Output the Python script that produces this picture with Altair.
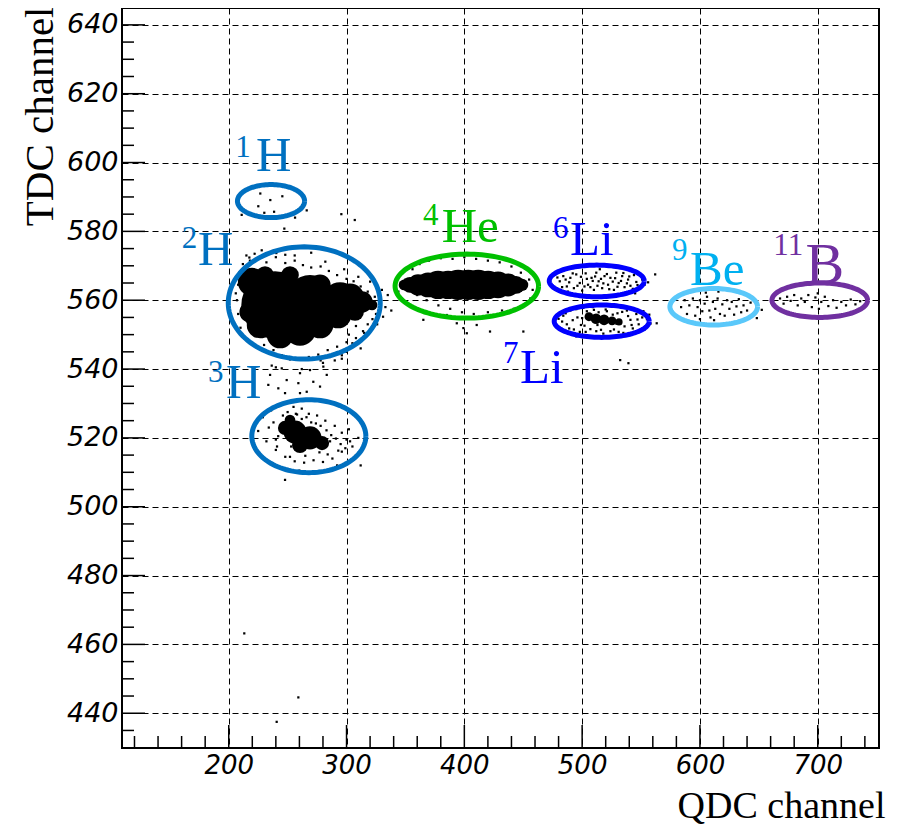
import altair as alt
import pandas as pd
import numpy as np

# ---------------- axis ranges / ticks ----------------
X_DOMAIN = [109.4, 752.0]
Y_DOMAIN = [429.9, 644.9]
W, H = 757, 740

x_major = [200, 300, 400, 500, 600, 700]
x_minor = [v for v in range(120, 760, 20) if v % 100 != 0]
y_major = list(range(440, 641, 20))
y_minor = [v for v in range(435, 645, 5) if v % 20 != 0]

# ---------------- scattered events (QDC, TDC) ----------------
h1_x = [226.8, 235.3, 245.5, 225.1, 238.5, 230.2, 266.2, 256.3, 247.2, 295.6, 307.0, 217.5, 240.4, 211.0]
h1_y = [591.0, 589.1, 590.2, 587.3, 585.7, 585.4, 586.1, 584.0, 580.8, 585.0, 583.3, 572.4, 573.7, 584.8]

h2_x = [212, 218, 225, 232, 240, 248, 256, 263, 270, 278, 285, 292, 300, 306, 312, 318, 324, 329, 333,
        328, 331, 326, 322,
        315, 308, 300, 292, 284, 276, 268, 260, 252, 245, 238, 230, 223, 217,
        208, 207, 208, 209, 206,
        240, 262, 280, 296, 335, 338, 228, 270,
        300, 305, 310, 314, 318, 322, 296, 302, 290, 312, 325, 286, 278, 308,
        215, 222, 248, 256, 282, 298, 310, 320, 330, 210, 213]
h2_y = [570.5, 571.5, 572, 571, 572.5, 570.8, 571.5, 570.2, 569.5, 569.8, 568.5, 567.3, 566.2, 565.5, 564.0, 562.5, 561.0, 559.5, 558.0,
        556.5, 555.2, 553.0, 551.8,
        550.5, 549.0, 547.8, 546.5, 545.5, 544.2, 543.5, 543.0, 542.8, 544.0, 545.5, 547.0, 549.5, 552.0,
        556, 560, 564.5, 568, 562,
        540.5, 540.0, 541.8, 544.0, 561.5, 557.0, 574.5, 573.8,
        545, 547.5, 548, 551, 553, 554.5, 543, 550, 542.5, 546, 556, 543.5, 542.5, 552.5,
        573, 573.5, 573.2, 573, 571.2, 569, 566.8, 565.4, 563, 552, 549]

bridge_x = [236.5, 245.0, 260.5, 269.0, 280.3, 249.2, 259.1, 271.8, 242.1, 266.2, 235.1, 283.2, 233.6, 247.8, 260.5, 277.5]
bridge_y = [541.0, 540.2, 538.8, 539.7, 540.7, 536.8, 535.9, 536.3, 534.4, 533.4, 538.3, 538.3, 535.4, 533.0, 533.0, 534.9]

h3_x = [225, 229, 232, 236, 240, 244, 250, 255, 262, 268, 275, 282, 290, 296, 300, 305, 310, 296, 288, 280,
        272, 264, 256, 248, 240, 234, 286, 292, 302, 308, 260, 275, 247.8, 312,
        238, 242, 246, 250, 253, 257, 262, 266, 270, 274, 278, 283, 287, 291, 295, 299, 241, 284, 265, 252,
        277, 245, 293, 303, 258]
h3_y = [522, 526, 519, 528, 516.5, 529.5, 527.5, 529, 528.5, 527, 526.5, 525, 523.5, 521.5, 519.5, 517.5, 520, 516, 514, 513,
        513.5, 512.8, 513.2, 514.5, 519.5, 523, 519, 512, 522.5, 515, 510.5, 510, 507.8, 512,
        524.5, 520.5, 526.5, 525.5, 517.5, 527, 525.5, 526, 524.5, 524.2, 523.5, 522.2, 520.8, 519.8, 518.2, 517, 517.5, 515.2, 514.8, 514.5,
        515.8, 522.8, 516.3, 519, 526.8]

low_x = [213.2, 259.1, 240.7]
low_y = [463.2, 444.6, 437.5]

he4_x = [365.2, 385.1, 393.6, 399.2, 410.5, 421.8, 450.1, 402.1,
         350, 356, 362, 370, 380, 390, 400, 410, 420, 430, 440, 448, 455, 458, 456, 450, 442, 432,
         420, 408, 398, 388, 378, 368, 360, 352, 346, 344, 462]
he4_y = [554.3, 555.7, 553.3, 551.9, 552.8, 550.9, 550.9, 550.4,
         566, 569, 570.5, 571.5, 572.2, 572, 572.5, 572, 571.5, 571, 569.8, 568, 566, 563, 560.5, 558.5, 557.5, 557,
         556.5, 556, 556.5, 557.5, 558.5, 560, 561.5, 563, 565, 562.5, 564]

li6_x = [481, 484, 487, 490, 493, 495, 498, 500, 503, 505, 508, 510, 512, 514, 517, 519, 522, 524, 527, 529,
         531, 534, 536, 539, 541, 544, 546, 549, 551, 553, 488, 515, 532, 545, 562,
         483, 486, 489, 492, 496, 499, 502, 504, 507, 509, 511, 513, 516, 518, 521, 523, 526, 528, 530, 533,
         535, 538, 540, 543, 547, 550, 479, 556]
li6_y = [565.5, 567, 564, 566.5, 563.5, 567.5, 565, 562.8, 567.8, 564.5, 566.5, 563, 568, 565.5, 563.5, 567, 564.5, 566.5, 563, 568,
         565, 567, 563.8, 566, 564.2, 567.3, 565.3, 563.5, 566, 564.5, 562.5, 569, 569.5, 562, 567.5,
         563.8, 566, 565.2, 567.8, 564.2, 566.8, 564, 566.2, 563.8, 565.6, 566.9, 564.2, 566.2, 564.9, 567.6, 563.2, 565.4, 566.4, 563.9, 565.6,
         567.9, 564.9, 566.9, 563.3, 564.4, 567.2, 566.6, 565.2]

li7_x = [484, 487, 490, 493, 496, 499, 501, 503, 509, 512, 514, 518, 520, 527, 530, 533, 535, 538, 541, 543,
         546, 548, 551, 553, 555, 481, 495, 525, 540, 505, 558, 532.3, 539.3, 563.3,
         483, 486, 489, 492, 495, 498, 500, 502, 504, 507, 510, 513, 516, 521, 524, 526, 529, 531, 534, 536,
         539, 542, 544, 547, 549, 552, 557, 480]
li7_y = [555.5, 553, 557, 551.5, 555, 552.8, 557.8, 550.8, 558, 551, 556.5, 550.3, 557.3, 551.5, 556.2, 553.5, 550.5, 557, 554.3, 551.8,
         556, 553, 555, 551.5, 554.5, 552, 549.5, 558.3, 549.8, 549.5, 553.2, 542.6, 541.7, 553.3,
         553.8, 556.2, 551.8, 554.2, 557.4, 550.8, 554.8, 552.6, 556.8, 551.6, 557.2, 552.8, 551.4, 556.8, 551.0, 555.8, 553.2, 550.8, 556.6, 552.4,
         555.4, 552.8, 557.6, 554.4, 551.4, 556.8, 555.8, 554.6]

be9_x = [584, 587, 589, 591, 594, 596, 598, 600, 602, 604, 606, 608, 609, 611, 613, 615, 617, 619, 621, 623,
         625, 627, 629, 631, 633, 635, 637, 640, 643, 646, 600, 612, 592, 615.7, 652.5, 648.3, 605]
be9_y = [558, 560, 556, 558.5, 560.5, 555.5, 558, 560, 556.8, 559, 561, 557, 555, 559.5, 557.5, 560.5, 556, 558.8, 555.5, 560,
         557.5, 559.5, 555.8, 558.2, 560.3, 556.5, 558.5, 557, 559.3, 556.3, 554.5, 554.2, 553.8, 562.5, 557.2, 554.8, 562.2]

b11_x = [668, 671, 674, 677, 680, 683, 686, 689, 692, 695, 698, 700, 701, 703, 706, 709, 713, 716, 720, 724, 728, 732, 736]
b11_y = [560.5, 559, 561, 559.8, 561.5, 558.5, 560.5, 559.5, 561.5, 558, 560.8, 562, 557.5, 559.5, 561, 558.3, 560, 557.8, 559.5, 558.5, 560.2, 558.8, 559.7]

# dense cores of the populated regions (QDC, TDC)
core_x = [239.3, 219.8, 269.0, 294.5, 292.8, 313.2, 321.7, 307.2, 260.5, 277.5, 243.6, 226.6, 218.1, 252.0, 230.8, 277.5, 303.0,
          348.8, 353.9, 360.7, 369.2, 377.7, 386.2, 394.7, 403.2, 411.7, 420.2, 428.6, 437.1, 443.9, 449.0,
          505.8, 511.8, 518.6, 525.4, 531.3,
          256.3, 269.0, 247.8, 279.2, 260.5, 252.0]
core_y = [558.6, 565.3, 560.1, 560.1, 555.7, 559.5, 558.6, 556.6, 551.4, 552.8, 549.9, 552.8, 556.6, 567.3, 567.3, 564.4, 560.7,
          564.45, 564.45, 564.45, 564.45, 564.45, 564.45, 564.45, 564.45, 564.45, 564.45, 564.45, 564.45, 564.45, 564.45,
          555.2, 554.6, 554.3, 554.0, 553.7,
          521.7, 520.0, 522.9, 518.5, 517.9, 525.2]
core_radius_px = [38, 16, 28, 20, 15, 12, 6, 10, 18, 15, 15, 15, 12, 10, 10, 12, 16,
                  6, 9, 12, 14, 16, 16, 17, 17, 17, 16, 15, 13, 10, 7,
                  5, 6, 6, 5, 4,
                  13, 13, 8, 8, 9, 6]

# ---------------- particle ellipses ----------------
ell_name = ["1H", "2H", "3H", "4He", "6Li", "7Li", "9Be", "11B"]
ell_cx = [235.9, 264.1, 268.0, 402.1, 512.4, 516.6, 611.7, 701.7]
ell_cy = [588.8, 559.2, 520.5, 564.1, 565.6, 553.9, 558.1, 560.0]
ell_rx = [28.5, 64.5, 48.4, 60.9, 40.3, 40.3, 37.2, 40.6]
ell_ry = [4.8, 16.3, 10.6, 9.3, 4.6, 4.7, 5.3, 5.0]
ell_color = ["#0070C0", "#0070C0", "#0070C0", "#00C000", "#0000FF", "#0000FF", "#5AC8FA", "#7030A0"]

# ---------------- labels ----------------
sup_text = ["1", "2", "3", "4", "6", "7", "9", "11"]
sup_x = [205.5, 160.1, 182.4, 364.9, 475.3, 432.8, 576.3, 662.3]
sup_y = [601.6, 575.2, 536.3, 581.9, 578.1, 541.8, 571.7, 573.2]
main_text = ["H", "H", "H", "He", "Li", "Li", "Be", "B"]
main_x = [223.2, 173.9, 197.7, 380.8, 489.7, 447.3, 591.6, 689.6]
main_y = [597.4, 570.3, 531.6, 577.0, 573.2, 536.0, 564.5, 565.0]
label_color = ["#0070C0", "#0070C0", "#0070C0", "#00C000", "#0000FF", "#0000FF", "#00B0F0", "#7030A0"]
main_fs = [49, 49, 49, 49, 49, 49, 49, 58]

# ---------------- build tables ----------------
dots = pd.DataFrame({
    "qdc": h1_x + h2_x + bridge_x + h3_x + low_x + he4_x + li6_x + li7_x + be9_x + b11_x,
    "tdc": h1_y + h2_y + bridge_y + h3_y + low_y + he4_y + li6_y + li7_y + be9_y + b11_y,
})
cores = pd.DataFrame({"qdc": core_x, "tdc": core_y,
                      "s": [np.pi * r * r for r in core_radius_px]})

t = np.linspace(0, 2 * np.pi, 121)
rows = []
for n, cx, cy, rx, ry in zip(ell_name, ell_cx, ell_cy, ell_rx, ell_ry):
    for k, a in enumerate(t):
        rows.append({"name": n, "k": k, "qdc": cx + rx * np.cos(a), "tdc": cy + ry * np.sin(a)})
ell = pd.DataFrame(rows)

sup = pd.DataFrame({"t": sup_text, "qdc": sup_x, "tdc": sup_y, "c": label_color})
main = pd.DataFrame({"t": main_text, "qdc": main_x, "tdc": main_y, "c": label_color, "fs": main_fs})

xs = alt.Scale(domain=X_DOMAIN, nice=False, zero=False)
ys = alt.Scale(domain=Y_DOMAIN, nice=False, zero=False)

x_axis = alt.Axis(values=x_major, title="QDC channel", grid=True, gridDash=[6, 4], gridColor="black",
                  gridWidth=1, gridOpacity=1, ticks=False, domain=False,
                  labelFont="DejaVu Sans", labelFontStyle="italic", labelFontSize=26, labelColor="black",
                  labelPadding=4, labelFlush=False, labelOverlap=False,
                  titleFont="Liberation Serif", titleFontSize=38, titleFontWeight="normal", titleColor="black",
                  titleAnchor="end", titleAlign="right", titleX=W + 6, titleY=69, titleBaseline="alphabetic")
y_axis = alt.Axis(values=y_major, title="TDC channel", grid=True, gridDash=[6, 4], gridColor="black",
                  gridWidth=1, gridOpacity=1, ticks=False, domain=False,
                  labelFont="DejaVu Sans", labelFontStyle="italic", labelFontSize=27, labelColor="black",
                  labelPadding=4, labelFlush=False, labelOverlap=False,
                  titleFont="Liberation Serif", titleFontSize=41, titleFontWeight="normal", titleColor="black",
                  titleAnchor="end", titleAlign="right", titleAngle=270, titleX=-70, titleY=-2,
                  titleBaseline="alphabetic")

X = lambda f: alt.X(f, scale=xs, axis=x_axis)
Y = lambda f: alt.Y(f, scale=ys, axis=y_axis)

dot_layer = alt.Chart(dots).mark_square(size=5, color="black", opacity=1).encode(
    x=X("qdc:Q"), y=Y("tdc:Q"),
)
core_layer = alt.Chart(cores).mark_circle(color="black", opacity=1).encode(
    x=X("qdc:Q"), y=Y("tdc:Q"),
    size=alt.Size("s:Q", scale=None, legend=None),
)
ell_layer = alt.Chart(ell).mark_line(strokeWidth=5).encode(
    x=X("qdc:Q"), y=Y("tdc:Q"),
    detail="name:N",
    order="k:Q",
    color=alt.Color("name:N", scale=alt.Scale(domain=ell_name, range=ell_color), legend=None),
)
sup_layer = alt.Chart(sup).mark_text(font="Liberation Serif", fontSize=31, align="left",
                                     baseline="alphabetic").encode(
    x=X("qdc:Q"), y=Y("tdc:Q"),
    text="t:N",
    color=alt.Color("c:N", scale=None),
)
main_layer = alt.Chart(main).mark_text(font="Liberation Serif", align="left",
                                       baseline="alphabetic").encode(
    x=X("qdc:Q"), y=Y("tdc:Q"),
    text="t:N",
    color=alt.Color("c:N", scale=None),
    size=alt.Size("fs:Q", scale=None, legend=None),
)

def xticks(vals, length):
    return alt.Chart(pd.DataFrame({"qdc": vals})).mark_rule(color="black", strokeWidth=1.5).encode(
        x=X("qdc:Q"), y=alt.value(H), y2=alt.value(H - length))

def yticks(vals, length):
    return alt.Chart(pd.DataFrame({"tdc": vals})).mark_rule(color="black", strokeWidth=1.5).encode(
        y=Y("tdc:Q"), x=alt.value(0), x2=alt.value(length))

chart = alt.layer(
    dot_layer, core_layer, ell_layer, sup_layer, main_layer,
    xticks(x_major, 23), xticks(x_minor, 12), yticks(y_major, 23), yticks(y_minor, 12),
).properties(
    width=W, height=H,
    autosize=alt.AutoSizeParams(type="none"),
    padding={"left": 114, "top": 0, "right": 14, "bottom": 76},
    background="white",
).configure_view(stroke="black", strokeWidth=2)

chart.save("out.html", embed_options={"renderer": "svg", "actions": False})
